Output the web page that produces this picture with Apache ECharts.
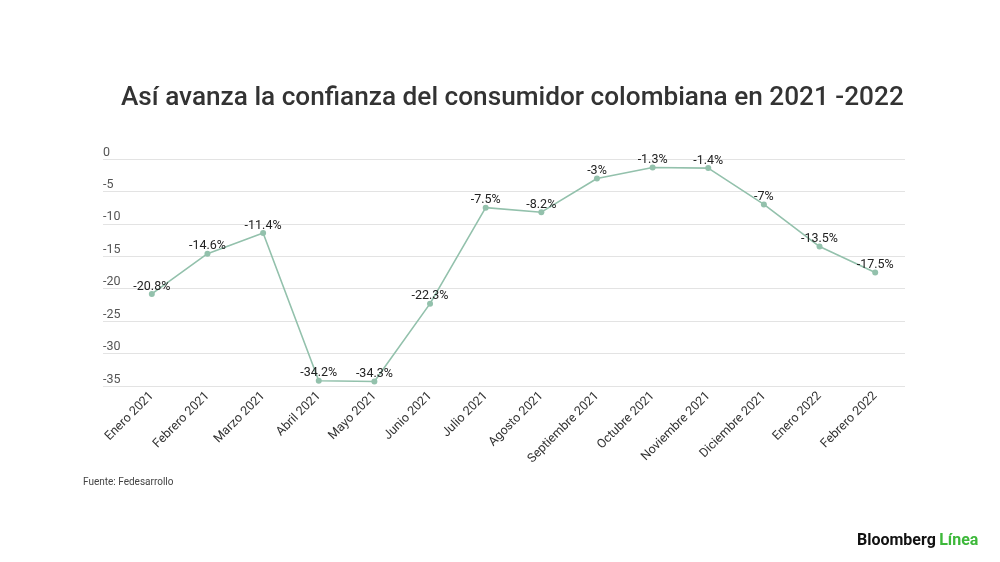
<!DOCTYPE html>
<html>
<head>
<meta charset="utf-8">
<script src="https://cdn.jsdelivr.net/npm/echarts@6/dist/echarts.min.js"></script>
<style>
html,body{margin:0;padding:0;background:#fff;}
#c{width:1000px;height:562px;}
</style>
</head>
<body>
<div id="c"></div>
<script>
var categories = ['Enero 2021','Febrero 2021','Marzo 2021','Abril 2021','Mayo 2021','Junio 2021','Julio 2021','Agosto 2021','Septiembre 2021','Octubre 2021','Noviembre 2021','Diciembre 2021','Enero 2022','Febrero 2022'];
var values = [-20.8, -14.6, -11.4, -34.2, -34.3, -22.3, -7.5, -8.2, -3, -1.3, -1.4, -7, -13.5, -17.5];
var yMin = -35, yMax = 0, yStep = 5;
var titleText = 'Así avanza la confianza del consumidor colombiana en 2021 -2022';
var sourceText = 'Fuente: Fedesarrollo';

var chart = echarts.init(document.getElementById('c'), null, {renderer:'canvas'});
var font = 'Roboto, "Noto Sans", sans-serif';
chart.setOption({
  backgroundColor: '#ffffff',
  animation: false,
  textStyle: {fontFamily: font},
  title: {
    text: titleText,
    left: 116, top: 80,
    textStyle: {fontFamily: font, fontSize: 26.2, fontWeight: 500, color: '#333333'}
  },
  graphic: [
    {type:'text', left: 83, top: 477, style:{text: sourceText, font: '10px Roboto, sans-serif', fill:'#444444'}},
    {type:'text', left: 857, top: 533, style:{
      text: '{a|Bloomberg} {b|Línea}',
      rich: {
        a: {fontFamily: font, fontSize: 16, fontWeight: 'bold', fill: '#111111', color:'#111111'},
        b: {fontFamily: font, fontSize: 16, fontWeight: 'bold', fill: '#3db83a', color:'#3db83a'}
      }
    }}
  ],
  grid: [
    {left: 103, right: 95, top: 159, bottom: 176, containLabel: false},
    {left: 124, right: 97, top: 159, bottom: 176, containLabel: false}
  ],
  xAxis: [
    {type: 'value', gridIndex: 0, show: false, min: 0, max: 1},
    {
      type: 'category', gridIndex: 1, data: categories, boundaryGap: true,
      axisLine: {show: false}, axisTick: {show: false}, splitLine: {show: false},
      axisLabel: {rotate: 45, interval: 0, margin: 8, fontFamily: font, fontSize: 12.5, color: '#333333'}
    }
  ],
  yAxis: [
    {
      type: 'value', gridIndex: 0, min: yMin, max: yMax, interval: yStep,
      axisLine: {show: false}, axisTick: {show: false},
      splitLine: {show: true, lineStyle: {color: '#e3e3e3', width: 1}},
      axisLabel: {inside: true, margin: 0, verticalAlign: 'bottom', align: 'left', padding: [0,0,0,0], fontFamily: font, fontSize: 12.5, color: '#555555'}
    },
    {type: 'value', gridIndex: 1, min: yMin, max: yMax, interval: yStep, show: false, splitLine: {show: false}}
  ],
  series: [{
    type: 'line', xAxisIndex: 1, yAxisIndex: 1, data: values,
    symbol: 'circle', symbolSize: 6, showAllSymbol: true,
    lineStyle: {color: '#93c1ac', width: 1.6},
    itemStyle: {color: '#93c1ac'},
    label: {
      show: true, position: 'top', distance: -2,
      fontFamily: font, fontSize: 12.5, color: '#222222',
      formatter: function(p){ return p.value + '%'; }
    }
  }]
});
</script>
</body>
</html>
